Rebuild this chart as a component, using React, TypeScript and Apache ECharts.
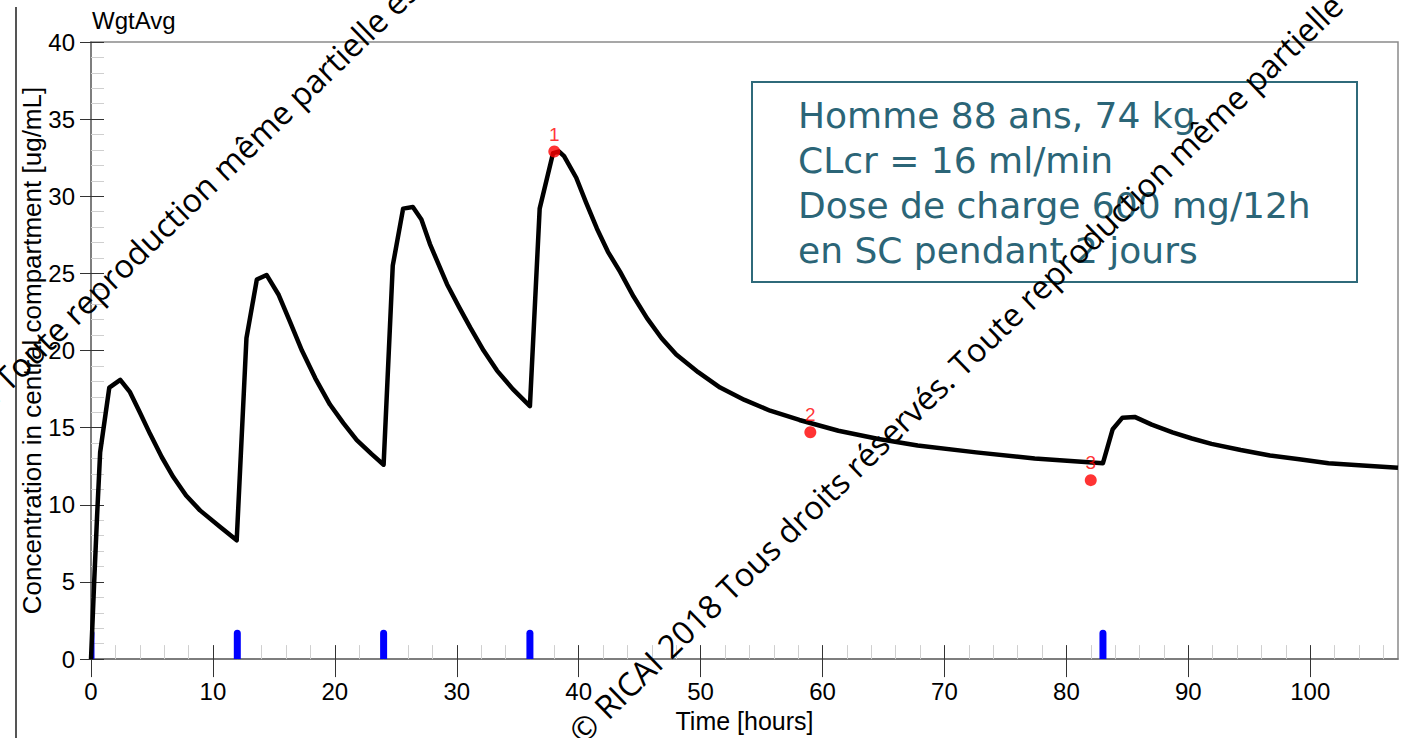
import React, { useEffect, useRef } from 'react';
import * as echarts from 'echarts';

// ---- Data ----
const curveTime = [
  0, 0.25, 0.5, 0.75, 1.5, 2.4, 3.2, 4, 4.84, 5.8, 6.75, 7.8, 8.94, 10.6, 11.95,
  12.75, 13.6, 14.4, 15.4, 16.3, 17.3, 18.4, 19.6, 20.7, 21.8, 23, 24,
  24.75, 25.6, 26.4, 27.1, 27.8, 28.5, 29.2, 30.2, 31.1, 32.2, 33.3, 34.6, 36,
  36.8, 37.9, 38.4, 38.8, 39.8, 40.6, 41.5, 42.4, 43.4, 44.5, 45.6, 46.8, 48, 49.8,
  51.6, 53.6, 55.7, 58.1, 61.3, 64.6, 67.8, 72.6, 77.4, 83,
  83.8, 84.6, 85.6, 87, 88.7, 90.3, 91.9, 94.3, 96.7, 99.1, 101.5, 104.3, 107.2,
];
const curveConc = [
  0, 4.8, 9.3, 13.4, 17.6, 18.1, 17.3, 16.0, 14.6, 13.1, 11.8, 10.6, 9.64, 8.57, 7.7,
  20.8, 24.6, 24.9, 23.6, 21.9, 20.0, 18.2, 16.5, 15.3, 14.2, 13.3, 12.6,
  25.5, 29.2, 29.3, 28.5, 26.9, 25.6, 24.3, 22.8, 21.5, 20.0, 18.7, 17.5, 16.4,
  29.2, 32.8, 32.9, 32.6, 31.2, 29.6, 27.9, 26.4, 25.1, 23.5, 22.1, 20.8, 19.75, 18.6,
  17.6, 16.8, 16.1, 15.5, 14.8, 14.27, 13.84, 13.4, 13.0, 12.7,
  14.9, 15.65, 15.7, 15.2, 14.7, 14.3, 13.95, 13.55, 13.2, 12.95, 12.7, 12.55, 12.4,
];
const obsTime = [38, 59, 82];
const obsConc = [32.9, 14.7, 11.6];
const obsLabels = ['1', '2', '3'];
const doseTimes = [0, 12, 24, 36, 83];
const doseMarkHeight = [1.9, 1.9, 1.9, 1.9, 1.9];

const xMajorTicks = [0, 10, 20, 30, 40, 50, 60, 70, 80, 90, 100];
const xMinorTicks = [
  2, 4, 6, 8, 12, 14, 16, 18, 22, 24, 26, 28, 32, 34, 36, 38, 42, 44, 46, 48,
  52, 54, 56, 58, 62, 64, 66, 68, 72, 74, 76, 78, 82, 84, 86, 88, 92, 94, 96, 98,
  102, 104, 106,
];
const yMajorTicks = [0, 5, 10, 15, 20, 25, 30, 35, 40];
const yMinorTicks = [
  1, 2, 3, 4, 6, 7, 8, 9, 11, 12, 13, 14, 16, 17, 18, 19, 21, 22, 23, 24,
  26, 27, 28, 29, 31, 32, 33, 34, 36, 37, 38, 39,
];
const xMin = 0;
const xMax = 107.2;
const yMin = 0;
const yMax = 40;

const panelTitle = 'WgtAvg';
const xAxisName = 'Time [hours]';
const yAxisName = 'Concentration in central compartment [ug/mL]';
const infoLines = [
  'Homme 88 ans, 74 kg',
  'CLcr = 16 ml/min',
  'Dose de charge 600 mg/12h',
  'en SC pendant 2 jours',
];
const watermark =
  '© RICAI 2018 Tous droits réservés. Toute reproduction même partielle est interdite';

const FONT = 'Liberation Sans, Arial, sans-serif';
const WM_FONT = 'Open Sans, sans-serif';
const WM_SIZE = 32.5;
const WM_ANGLE = (44 * Math.PI) / 180;

export default function App() {
  const ref = useRef<HTMLDivElement>(null);

  useEffect(() => {
    document.body.style.margin = '0';
    if (!ref.current) return;
    const chart = echarts.init(ref.current, undefined, { renderer: 'svg' });

    const baseX = { type: 'value', min: xMin, max: xMax, position: 'bottom', splitLine: { show: false } };
    const baseY = { type: 'value', min: yMin, max: yMax, position: 'left', splitLine: { show: false } };

    const option: any = {
      animation: false,
      backgroundColor: '#ffffff',
      grid: {
        left: 91,
        right: 16,
        top: 42,
        bottom: 75,
        show: true,
        borderColor: '#8a8a8a',
        borderWidth: 1.5,
        containLabel: false,
      },
      xAxis: [
        {
          ...baseX,
          interval: 10,
          name: xAxisName,
          nameLocation: 'middle',
          nameGap: 43,
          nameTextStyle: { fontFamily: FONT, fontSize: 25, color: '#000' },
          axisLine: { show: true, onZero: false, lineStyle: { color: '#707070', width: 1.5 } },
          axisTick: { show: true, inside: false, length: 18, customValues: xMajorTicks, lineStyle: { color: '#333', width: 1 } },
          axisLabel: { show: true, customValues: xMajorTicks, margin: 20, fontFamily: FONT, fontSize: 24, color: '#000' },
        },
        {
          ...baseX,
          axisLine: { show: false, onZero: false },
          axisLabel: { show: false },
          axisTick: { show: true, inside: true, length: 14, customValues: xMajorTicks, lineStyle: { color: '#333', width: 1 } },
        },
        {
          ...baseX,
          axisLine: { show: false, onZero: false },
          axisLabel: { show: false },
          axisTick: { show: true, inside: true, length: 14, customValues: xMinorTicks, lineStyle: { color: '#cfcfcf', width: 1 } },
        },
      ],
      yAxis: [
        {
          ...baseY,
          interval: 5,
          name: yAxisName,
          nameLocation: 'middle',
          nameRotate: 90,
          nameGap: 46,
          nameMoveOverlap: false,
          nameTextStyle: { fontFamily: FONT, fontSize: 26, color: '#000' },
          axisLine: { show: true, onZero: false, lineStyle: { color: '#707070', width: 1.5 } },
          axisTick: { show: true, inside: false, length: 11, customValues: yMajorTicks, lineStyle: { color: '#333', width: 1 } },
          axisLabel: { show: true, customValues: yMajorTicks, margin: 16, fontFamily: FONT, fontSize: 24, color: '#000' },
        },
        {
          ...baseY,
          axisLine: { show: false, onZero: false },
          axisLabel: { show: false },
          axisTick: { show: true, inside: true, length: 13, customValues: yMajorTicks, lineStyle: { color: '#333', width: 1 } },
        },
        {
          ...baseY,
          axisLine: { show: false, onZero: false },
          axisLabel: { show: false },
          axisTick: { show: true, inside: true, length: 13, customValues: yMinorTicks, lineStyle: { color: '#cfcfcf', width: 1 } },
        },
      ],
      series: [
        {
          type: 'custom',
          name: 'doses',
          xAxisIndex: 0,
          yAxisIndex: 0,
          clip: true,
          z: 2,
          data: doseTimes.map((t, i) => [t, doseMarkHeight[i]]),
          renderItem: (params: any, api: any) => {
            const p0 = api.coord([api.value(0), 0]);
            const p1 = api.coord([api.value(0), api.value(1)]);
            const w = 7;
            return {
              type: 'rect',
              shape: { x: p0[0] - w / 2, y: p1[1], width: w, height: p0[1] - p1[1], r: [3.5, 3.5, 0, 0] },
              style: { fill: '#0000ff' },
            };
          },
        },
        {
          type: 'line',
          name: 'WgtAvg',
          xAxisIndex: 0,
          yAxisIndex: 0,
          data: curveTime.map((t, i) => [t, curveConc[i]]),
          showSymbol: false,
          symbol: 'none',
          smooth: false,
          clip: true,
          z: 3,
          lineStyle: { color: '#000000', width: 4.5, join: 'round' },
        },
        {
          type: 'scatter',
          name: 'Observed',
          xAxisIndex: 0,
          yAxisIndex: 0,
          data: obsTime.map((t, i) => [t, obsConc[i]]),
          symbol: 'circle',
          symbolSize: 12,
          z: 5,
          itemStyle: { color: '#ff0000' },
          label: {
            show: true,
            position: 'top',
            distance: 2,
            formatter: (p: any) => obsLabels[p.dataIndex],
            color: '#ff0000',
            fontFamily: FONT,
            fontSize: 19,
          },
        },
      ],
      graphic: [
        {
          type: 'line',
          shape: { x1: 16, y1: 7, x2: 16, y2: 738 },
          style: { stroke: '#555555', lineWidth: 2 },
          z: 10,
        },
        {
          type: 'text',
          x: 92,
          y: 8,
          style: { text: panelTitle, fontFamily: FONT, fontSize: 24, fill: '#000', align: 'left', verticalAlign: 'top' },
          z: 10,
        },
        {
          type: 'rect',
          shape: { x: 752, y: 82, width: 605, height: 200 },
          style: { fill: 'rgba(255,255,255,0)', stroke: '#2f6a7a', lineWidth: 2 },
          z: 10,
        },
        {
          type: 'text',
          x: 798,
          y: 93,
          style: {
            text: infoLines.join('\n'),
            fontFamily: 'DejaVu Sans, sans-serif',
            fontSize: 36,
            lineHeight: 45,
            fill: '#2b6577',
            align: 'left',
            verticalAlign: 'top',
          },
          z: 10,
        },
        {
          type: 'text',
          x: 574,
          y: 737,
          rotation: WM_ANGLE,
          style: { text: watermark, fontFamily: WM_FONT, fontSize: WM_SIZE, fill: '#000', align: 'left', verticalAlign: 'middle' },
          z: 100,
        },
        {
          type: 'text',
          x: -381,
          y: 752,
          rotation: WM_ANGLE,
          style: { text: watermark, fontFamily: WM_FONT, fontSize: WM_SIZE, fill: '#000', align: 'left', verticalAlign: 'middle' },
          z: 100,
        },
      ],
    };

    chart.setOption(option);
    return () => chart.dispose();
  }, []);

  return (
    <div
      ref={ref}
      style={{ position: 'fixed', left: 0, top: 0, width: 1414, height: 738, background: '#fff' }}
    />
  );
}
